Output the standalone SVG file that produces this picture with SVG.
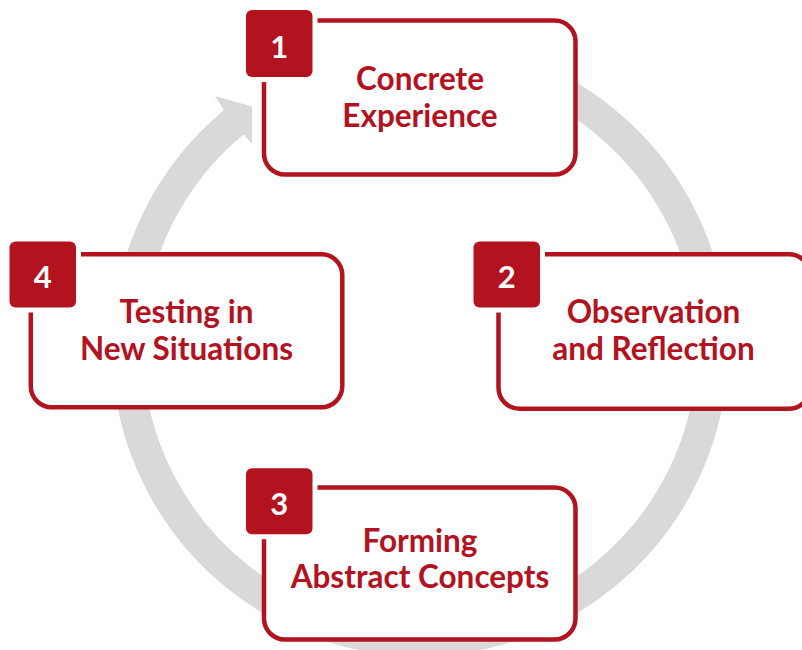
<svg xmlns="http://www.w3.org/2000/svg" width="802" height="650" viewBox="0 0 802 650">
  <defs>
    <style>
      .ring { fill: none; stroke: #D9D9D9; stroke-width: 31; }
      .head { fill: #D9D9D9; }
      .box { fill: #FFFFFF; stroke: #B3121F; stroke-width: 4.5; }
      .badge { fill: #B3121F; stroke: #FFFFFF; stroke-width: 10; paint-order: stroke fill; }
      .num { font-family: Lato, "Open Sans", sans-serif; font-weight: 700; font-size: 31px; fill: #FFFFFF; text-anchor: middle; }
      .label { font-family: Lato, "Open Sans", sans-serif; font-weight: 700; font-size: 31.5px; fill: #B3121F; text-anchor: middle; }
    </style>
  </defs>
  <rect width="802" height="650" fill="#FFFFFF"/>

  <!-- cycle ring running clockwise, ending in an arrowhead at the upper left -->
  <g id="connectors">
    <path class="ring" d="M 495.7 65.5 A 292.5 292.5 0 1 1 233.9 122.3"/>
    <polygon class="head" points="220.0,113.8 224.1,110.3 215,96 252,106.5 252,144.2 243.8,134.3 240.1,137.4"/>
  </g>

  <g id="step1">
    <rect class="box" x="264" y="20.5" width="311.5" height="154" rx="21"/>
    <rect class="badge" x="246" y="10" width="66.5" height="67" rx="6"/>
    <text class="num" x="279.2" y="58.3">1</text>
    <text class="label" x="420" y="90">Concrete</text>
    <text class="label" x="420" y="126.7">Experience</text>
  </g>

  <g id="step2">
    <rect class="box" x="498.5" y="254.2" width="311.5" height="154.5" rx="21"/>
    <rect class="badge" x="473.5" y="241.5" width="66.5" height="66" rx="6"/>
    <text class="num" x="506.7" y="288.3">2</text>
    <text class="label" x="653.5" y="323.3">Observation</text>
    <text class="label" x="653.5" y="360">and Reflection</text>
  </g>

  <g id="step3">
    <rect class="box" x="264" y="487.5" width="311.5" height="152" rx="21"/>
    <rect class="badge" x="246" y="468.3" width="66.5" height="66" rx="6"/>
    <text class="num" x="279.2" y="515">3</text>
    <text class="label" x="420" y="551.7">Forming</text>
    <text class="label" x="420" y="588.3">Abstract Concepts</text>
  </g>

  <g id="step4">
    <rect class="box" x="30.8" y="254.2" width="311.5" height="153" rx="21"/>
    <rect class="badge" x="9.5" y="241.5" width="66.5" height="66" rx="6"/>
    <text class="num" x="42.7" y="288.3">4</text>
    <text class="label" x="186.5" y="323.3">Testing in</text>
    <text class="label" x="186.5" y="360">New Situations</text>
  </g>
</svg>
